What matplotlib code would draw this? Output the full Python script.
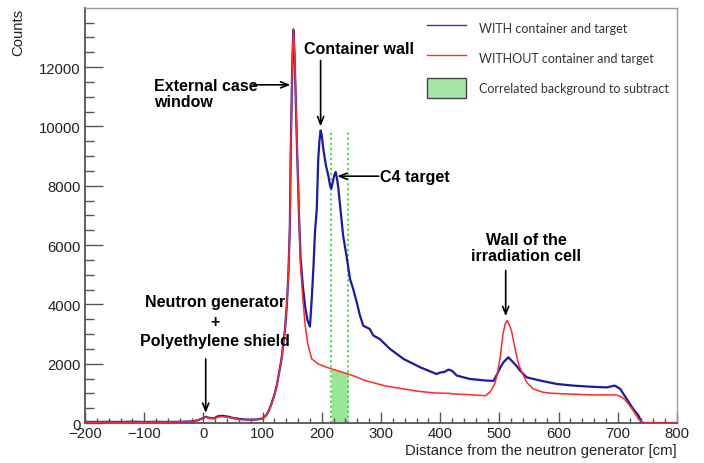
import matplotlib
matplotlib.use("Agg")
import matplotlib.pyplot as plt
from matplotlib.lines import Line2D
from matplotlib.patches import Patch
from matplotlib.ticker import MultipleLocator

# ---------------- data ----------------
without_x = [-200, -180, -160, -140, -120, -100, -80, -60, -40, -20, -10, 0, 4, 10, 18, 25, 32, 40, 50, 60,
             70, 80, 90, 100, 106, 110, 115, 120, 124, 128, 132, 135, 138, 141, 143.5, 146, 147.5, 150, 152,
             154, 156, 158, 161.5, 164, 168, 172, 176, 183, 194, 205, 217, 230, 245, 260, 273, 285, 295,
             310, 338, 366, 394, 416, 422, 450, 476, 484, 490, 493, 497, 501, 506, 510, 513, 517, 521, 525,
             529, 533, 538, 546, 557, 574, 590, 614, 640, 660, 680, 698, 707, 712, 718, 726, 735, 742, 800]
without_y = [30, 25, 30, 25, 30, 25, 30, 30, 35, 50, 90, 170, 200, 160, 150, 200, 215, 200, 160, 120,
             110, 100, 110, 140, 250, 380, 640, 950, 1260, 1700, 2160, 2650, 3170, 4000, 4970, 6600, 9100, 12000, 13300,
             12500, 11000, 9500, 7000, 5300, 4180, 3280, 2700, 2160, 1990, 1900, 1820, 1740, 1650, 1540, 1430, 1370, 1315,
             1240, 1150, 1060, 1010, 1000, 980, 955, 920, 1035, 1250, 1370, 1700, 2160, 3000, 3350, 3450, 3300, 3060, 2650,
             2270, 1950, 1710, 1370, 1150, 1035, 1000, 980, 960, 945, 950, 945, 870, 780, 640, 415, 135, 0, 0]

with_x = [-200, -180, -160, -140, -120, -100, -80, -60, -40, -20, -10, 0, 4, 10, 18, 25, 32, 40, 50, 60,
          70, 80, 90, 100, 106, 110, 115, 120, 124, 128, 132, 135, 138, 141, 143.5, 146, 147.5, 150, 152,
          154, 156, 158, 161.5, 164, 168, 172, 176, 180, 183, 186, 188.5, 191.5, 194, 196, 198, 200, 202.5,
          207, 211, 214, 216, 218.5, 221, 223.5, 226, 228, 232, 236, 242, 247.6, 253, 259, 264.5, 270, 281,
          287, 298, 315, 338, 366, 394, 400, 407, 414, 420, 428, 450, 478, 490, 495, 501, 507, 515, 523, 530,
          535, 546, 569, 597, 625, 653, 681, 695, 704, 715, 726, 735, 740, 745, 800]
with_y = [40, 35, 40, 35, 45, 35, 40, 35, 40, 55, 90, 170, 210, 170, 160, 230, 240, 220, 170, 140,
          120, 110, 120, 150, 260, 390, 650, 960, 1270, 1710, 2170, 2660, 3180, 4000, 4980, 6600, 9100, 12000, 13250,
          12400, 10900, 9400, 7000, 5600, 4600, 3900, 3450, 3250, 4180, 5300, 6440, 7220, 8900, 9500, 9860, 9700, 9240,
          8680, 8340, 8000, 7900, 8120, 8350, 8460, 8200, 7900, 7110, 6320, 5600, 4860, 4520, 4070, 3620, 3280, 3170,
          2950, 2830, 2500, 2160, 1880, 1650, 1700, 1720, 1800, 1760, 1600, 1485, 1430, 1420, 1600, 1850, 2050, 2215, 2050, 1900,
          1765, 1540, 1430, 1315, 1260, 1225, 1200, 1260, 1150, 810, 470, 250, 20, 0, 0]

# correlated background region (under the WITHOUT curve)
bkg_x = [216, 230, 244]
bkg_y = [1820, 1740, 1660]
bkg_line_top = 9800

series_labels = ["WITH container and target", "WITHOUT container and target",
                 "Correlated background to subtract"]

annotations = [
    # text, text x, text y, ha, linespacing, arrow start, arrow end
    ("External case\nwindow", -83, 11100, "left", 1.1, (84, 11400), (147, 11400)),
    ("Container wall", 170, 12620, "left", 1.1, (198, 12220), (198, 10000)),
    ("C4 target", 298, 8320, "left", 1.1, (296, 8320), (226, 8320)),
    ("Wall of the\nirradiation cell", 545, 5920, "center", 1.05, (510.6, 5140), (510.6, 3600)),
    ("Neutron generator\n+\nPolyethylene shield", 19.6, 3430, "center", 1.38, (3.9, 2160), (3.9, 340)),
]

# ---------------- figure ----------------
W, H = 704, 464
fig = plt.figure(figsize=(W / 100, H / 100), dpi=100)
ax = fig.add_axes([85 / W, 1 - 424 / H, (677 - 85) / W, (424 - 9) / H])

blue = "#1a1aa6"
red = "#ff2a2a"
green_fill = "#98e698"
green_line = "#33dd33"

ax.fill_between(bkg_x, 0, bkg_y, color=green_fill, lw=0, zorder=1)
ax.vlines(bkg_x[0], 0, bkg_line_top, colors=green_line, linestyles=(0, (1.2, 1.6)), lw=1.3, zorder=2)
ax.vlines(bkg_x[-1], 0, bkg_line_top, colors=green_line, linestyles=(0, (1.2, 1.6)), lw=1.3, zorder=2)

ax.plot(with_x, with_y, color=blue, lw=1.6, zorder=3)
ax.plot(without_x, without_y, color=red, lw=1.1, zorder=4)

ax.set_xlim(-200, 800)
ax.set_ylim(0, 13990)

ax.xaxis.set_major_locator(MultipleLocator(100))
ax.xaxis.set_minor_locator(MultipleLocator(20))
ax.yaxis.set_major_locator(MultipleLocator(2000))
ax.yaxis.set_minor_locator(MultipleLocator(500))

tick_color = "#555555"
ax.tick_params(axis="x", which="major", direction="in", length=8, width=1.0, color=tick_color,
               pad=2.5, labelsize=10.7, labelcolor="#222222", top=False)
ax.tick_params(axis="x", which="minor", direction="in", length=3.8, width=1.0, color=tick_color, top=False)
ax.tick_params(axis="y", which="major", direction="in", length=12.7, width=1.0, color=tick_color,
               pad=3, labelsize=10.7, labelcolor="#222222", right=False)
ax.tick_params(axis="y", which="minor", direction="in", length=6.5, width=1.0, color=tick_color, right=False)
for lab in ax.get_xticklabels() + ax.get_yticklabels():
    lab.set_family("Liberation Sans")

for side in ("left", "bottom"):
    ax.spines[side].set_color("#555555")
    ax.spines[side].set_linewidth(1.3)
for side in ("top", "right"):
    ax.spines[side].set_color("#9a9a9a")
    ax.spines[side].set_linewidth(1.0)

ax.set_xlabel("Distance from the neutron generator [cm]", fontsize=10.7, family="Liberation Sans",
              color="#222222", ha="right", va="center")
ax.xaxis.set_label_coords(1.0, -(450.7 - 424) / 415)
ax.set_ylabel("Counts", fontsize=10.7, family="Liberation Sans", color="#222222", ha="right", va="center")
ax.yaxis.set_label_coords((18 - 85) / 592, 1.0)

for text, tx, ty, ha, ls, a0, a1 in annotations:
    ax.text(tx, ty, text, ha=ha, va="center", multialignment="center" if ha == "center" else "left",
            fontsize=11.5, fontweight="bold", family="Liberation Sans", linespacing=ls, zorder=6)
    ax.annotate("", xy=a1, xytext=a0,
                arrowprops=dict(arrowstyle="->,head_length=0.55,head_width=0.22", lw=1.2, color="black",
                                shrinkA=0, shrinkB=0), zorder=6)

handles = [Line2D([], [], color="#3333cc", lw=1.0),
           Line2D([], [], color=red, lw=1.0),
           Patch(facecolor="#a6e6a6", edgecolor="#444444", lw=1.0)]
fs_leg = 9.0
fs_px = fs_leg * 100 / 72
leg = ax.legend(handles, series_labels, loc="upper left",
                bbox_to_anchor=(426.7 / W, 1 - 19 / H), bbox_transform=fig.transFigure,
                frameon=False, prop={"family": "Lato", "size": fs_leg},
                handlelength=39.3 / fs_px, handleheight=26 / fs_px, handletextpad=13 / fs_px,
                labelspacing=10 / fs_px, borderpad=0, borderaxespad=0)
for t in leg.get_texts():
    t.set_color("#333333")

fig.savefig("out.png", dpi=100)
